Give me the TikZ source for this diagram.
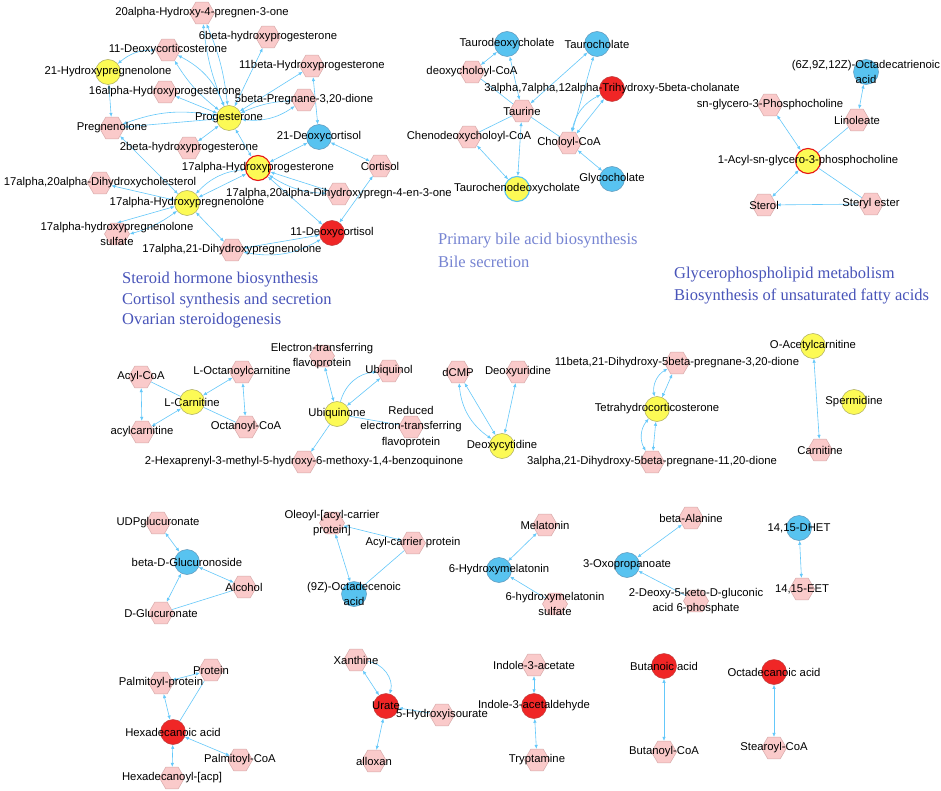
\documentclass[tikz,border=0pt]{standalone}
\usepackage{fontspec}
\setmainfont{Liberation Sans}
\newfontfamily\titlefont{Liberation Serif}
\usetikzlibrary{shapes.geometric,arrows.meta}
\pgfdeclarelayer{bg}
\pgfdeclarelayer{fg}
\pgfsetlayers{bg,main,fg}
\definecolor{hexfill}{RGB}{250,202,202}
\definecolor{hexdraw}{RGB}{215,170,170}
\definecolor{yelfill}{RGB}{252,250,85}
\definecolor{yeldraw}{RGB}{170,170,95}
\definecolor{blufill}{RGB}{88,195,240}
\definecolor{bludraw}{RGB}{95,150,185}
\definecolor{redfill}{RGB}{240,38,38}
\definecolor{reddraw}{RGB}{190,60,60}
\definecolor{redring}{RGB}{230,20,20}
\definecolor{edgec}{RGB}{100,200,250}
\definecolor{titleA}{RGB}{72,84,185}
\definecolor{titleB}{RGB}{118,132,210}
\newcommand\lblfont{\fontsize{11.3}{15.5}\selectfont}
\newcommand\ttlfont{\titlefont\fontsize{16.5}{20}\selectfont}
\newcommand\mknode[4]{%
  \node[#1] (#2) at (#3) {};
  \begin{pgfonlayer}{fg}\node[lbl] (#2-l) at (#2) {#4};\end{pgfonlayer}}
\tikzset{
  hexn/.style={regular polygon, regular polygon sides=6, minimum size=25pt, inner sep=0pt, fill=hexfill, draw=hexdraw, line width=0.5pt},
  yel/.style={circle, minimum size=25pt, inner sep=0pt, fill=yelfill, draw=yeldraw, line width=0.5pt},
  yelr/.style={yel, draw=redring, line width=1.1pt},
  yelb/.style={yel, draw=blufill, line width=1.1pt},
  blu/.style={circle, minimum size=25pt, inner sep=0pt, fill=blufill, draw=bludraw, line width=0.5pt},
  red/.style={circle, minimum size=25pt, inner sep=0pt, fill=redfill, draw=reddraw, line width=0.5pt},
  lbl/.style={font=\lblfont, inner sep=0pt, align=center, text=black},
  ttl/.style={font=\ttlfont, inner sep=0pt, anchor=west},
  ep/.style={draw=edgec, line width=0.6pt},
  ee/.style={ep, {Latex[length=4pt,width=3.4pt]}-{Latex[length=4pt,width=3.4pt]}},
  ea/.style={ep, -{Latex[length=4pt,width=3.4pt]}},
}
\begin{document}
\begin{tikzpicture}[x=1pt,y=-1pt]
\begin{pgfonlayer}{bg}
\path[use as bounding box, fill=white] (0,0) rectangle (941,791);
\end{pgfonlayer}
% ---------- steroid hormone cluster
\mknode{hexn}{s20a}{202,13}{20alpha-Hydroxy-4-pregnen-3-one}
\mknode{hexn}{s6b}{268,37}{6beta-hydroxyprogesterone}
\mknode{hexn}{s11doc}{168,50}{11-Deoxycorticosterone}
\mknode{yel}{s21hp}{108,72}{21-Hydroxypregnenolone}
\mknode{hexn}{s11b}{312,66}{11beta-Hydroxyprogesterone}
\mknode{hexn}{s16a}{165,92}{16alpha-Hydroxyprogesterone}
\mknode{hexn}{s5b}{304,100}{5beta-Pregnane-3,20-dione}
\mknode{yel}{sprog}{229,118}{Progesterone}
\mknode{hexn}{spreg}{112,128}{Pregnenolone}
\mknode{blu}{s21dc}{319,137}{21-Deoxycortisol}
\mknode{hexn}{s2b}{189,148}{2beta-hydroxyprogesterone}
\mknode{yelr}{s17ahp}{258,168}{17alpha-Hydroxyprogesterone}
\mknode{hexn}{scort}{380,166}{Cortisol}
\mknode{hexn}{s1720dhc}{100,183}{17alpha,20alpha-Dihydroxycholesterol}
\mknode{yel}{s17ahpreg}{187,203}{17alpha-Hydroxypregnenolone}
\mknode{hexn}{s1720dhp}{339,194}{17alpha,20alpha-Dihydroxypregn-4-en-3-one}
\mknode{hexn}{s17s}{117,234}{17alpha-hydroxypregnenolone\\sulfate}
\mknode{red}{s11dc}{332,233}{11-Deoxycortisol}
\mknode{hexn}{s1721}{232,250}{17alpha,21-Dihydroxypregnenolone}
% ---------- bile acid cluster
\mknode{blu}{btdc}{507,44}{Taurodeoxycholate}
\mknode{blu}{btc}{597,44}{Taurocholate}
\mknode{hexn}{bdcoa}{472,72}{deoxycholoyl-CoA}
\mknode{red}{btri}{612,89}{3alpha,7alpha,12alpha-Trihydroxy-5beta-cholanate}
\mknode{hexn}{btau}{522,111}{Taurine}
\mknode{hexn}{bcdcoa}{469,137}{Chenodeoxycholoyl-CoA}
\mknode{hexn}{bccoa}{569,143}{Choloyl-CoA}
\mknode{yelb}{btcdc}{517,189}{Taurochenodeoxycholate}
\mknode{blu}{bgc}{612,179}{Glycocholate}
% ---------- glycerophospholipid cluster
\mknode{blu}{gotd}{866,72}{(6Z,9Z,12Z)-Octadecatrienoic\\acid}
\mknode{hexn}{gsn}{770,105}{sn-glycero-3-Phosphocholine}
\mknode{hexn}{glin}{857,120}{Linoleate}
\mknode{yelr}{gacyl}{808,161}{1-Acyl-sn-glycero-3-phosphocholine}
\mknode{hexn}{gst}{764,205}{Sterol}
\mknode{hexn}{gse}{871,204}{Steryl ester}
% ---------- row 2
\mknode{hexn}{cacoa}{141,377}{Acyl-CoA}
\mknode{hexn}{cloc}{242,372}{L-Octanoylcarnitine}
\mknode{yel}{clc}{192,402}{L-Carnitine}
\mknode{hexn}{cac}{142,432}{acylcarnitine}
\mknode{hexn}{cocoa}{246,427}{Octanoyl-CoA}
\mknode{hexn}{uetf}{322,356}{Electron-transferring\\flavoprotein}
\mknode{hexn}{uol}{389,371}{Ubiquinol}
\mknode{yel}{uone}{337,414}{Ubiquinone}
\mknode{hexn}{uretf}{411,427}{Reduced\\electron-transferring\\flavoprotein}
\mknode{hexn}{uhex}{304,462}{2-Hexaprenyl-3-methyl-5-hydroxy-6-methoxy-1,4-benzoquinone}
\mknode{hexn}{ddcmp}{458,372}{dCMP}
\mknode{hexn}{ddu}{518,372}{Deoxyuridine}
\mknode{yel}{ddc}{502,446}{Deoxycytidine}
\mknode{hexn}{tp11b}{677,363}{11beta,21-Dihydroxy-5beta-pregnane-3,20-dione}
\mknode{yel}{tthc}{657,409}{Tetrahydrocorticosterone}
\mknode{hexn}{tp3a}{652,462}{3alpha,21-Dihydroxy-5beta-pregnane-11,20-dione}
\mknode{yel}{oac}{813,346}{O-Acetylcarnitine}
\mknode{yel}{osp}{854,402}{Spermidine}
\mknode{hexn}{ocar}{820,450}{Carnitine}
% ---------- row 3
\mknode{hexn}{rudp}{158,523}{UDPglucuronate}
\mknode{blu}{rbdg}{187,562}{beta-D-Glucuronoside}
\mknode{hexn}{ralc}{244,587}{Alcohol}
\mknode{hexn}{rdg}{161,613}{D-Glucuronate}
\mknode{hexn}{role}{332,523}{Oleoyl-[acyl-carrier\\protein]}
\mknode{hexn}{racp}{413,543}{Acyl-carrier protein}
\mknode{blu}{rode}{354,594}{(9Z)-Octadecenoic\\acid}
\mknode{hexn}{rmel}{545,525}{Melatonin}
\mknode{blu}{rhm}{499,570}{6-Hydroxymelatonin}
\mknode{hexn}{rhms}{555,604}{6-hydroxymelatonin\\sulfate}
\mknode{hexn}{rbal}{691,518}{beta-Alanine}
\mknode{blu}{roxo}{627,565}{3-Oxopropanoate}
\mknode{hexn}{rdkg}{696,601}{2-Deoxy-5-keto-D-gluconic\\acid 6-phosphate}
\mknode{blu}{rdhet}{799,528}{14,15-DHET}
\mknode{hexn}{reet}{802,589}{14,15-EET}
% ---------- row 4
\mknode{hexn}{fprot}{211,670}{Protein}
\mknode{hexn}{fpp}{161,683}{Palmitoyl-protein}
\mknode{red}{fhex}{173,732}{Hexadecanoic acid}
\mknode{hexn}{fpcoa}{240,760}{Palmitoyl-CoA}
\mknode{hexn}{facp}{172,778}{Hexadecanoyl-[acp]}
\mknode{hexn}{xxan}{356,660}{Xanthine}
\mknode{red}{xur}{386,706}{Urate}
\mknode{hexn}{x5h}{442,715}{5-Hydroxyisourate}
\mknode{hexn}{xall}{374,761}{alloxan}
\mknode{hexn}{iac}{534,665}{Indole-3-acetate}
\mknode{red}{iald}{534,706}{Indole-3-acetaldehyde}
\mknode{hexn}{itry}{537,760}{Tryptamine}
\mknode{red}{bba}{664,666}{Butanoic acid}
\mknode{hexn}{bbcoa}{664,752}{Butanoyl-CoA}
\mknode{red}{boa}{774,672}{Octadecanoic acid}
\mknode{hexn}{bscoa}{774,748}{Stearoyl-CoA}
% ---------- titles
\node[ttl, text=titleA] (ttl1) at (122,280) {Steroid hormone biosynthesis};
\node[ttl, text=titleA] (ttl2) at (122,300.5) {Cortisol synthesis and secretion};
\node[ttl, text=titleA] (ttl3) at (122,321) {Ovarian steroidogenesis};
\node[ttl, text=titleB] (ttl4) at (438,241) {Primary bile acid biosynthesis};
\node[ttl, text=titleB] (ttl5) at (438,262) {Bile secretion};
\node[ttl, text=titleA] (ttl6) at (674,275) {Glycerophospholipid metabolism};
\node[ttl, text=titleA] (ttl7) at (674,296) {Biosynthesis of unsaturated fatty acids};
% ---------- edges
\begin{pgfonlayer}{bg}
% steroid
\draw[ee] (sprog) to[bend left=8] (s20a);
\draw[ee] (sprog) to[bend right=8] (s20a);
\draw[ee] (sprog) -- (s6b);
\draw[ee] (sprog) to[bend left=10] (s11doc);
\draw[ee] (sprog) to[bend right=20] (s11doc);
\draw[ee] (s11doc) to[bend right=20] (s21hp);
\draw[ee] (s21hp) -- (spreg);
\draw[ee] (sprog) -- (s16a);
\draw[ee] (sprog) -- (spreg);
\draw[ee] (sprog) to[bend right=15] (spreg);
\draw[ee] (sprog) -- (s11b);
\draw[ee] (sprog) to[bend left=10] (s5b);
\draw[ee] (sprog) to[bend right=20] (s5b);
\draw[ee] (s11b) -- (s21dc);
\draw[ee] (sprog) -- (s2b);
\draw[ee] (sprog) -- (s17ahp);
\draw[ee] (s17ahp) -- (s21dc);
\draw[ee] (s17ahp) -- (s17ahpreg);
\draw[ee] (s17ahp) to[bend right=20] (s17ahpreg);
\draw[ee] (s17ahp) -- (s1720dhp);
\draw[ee] (s17ahp) to[bend right=15] (s1720dhp);
\draw[ee] (s17ahp) -- (s11dc);
\draw[ee] (s21dc) -- (scort);
\draw[ee] (scort) -- (s11dc);
\draw[ee] (spreg) -- (s17ahpreg);
\draw[ee] (s17ahpreg) -- (s1720dhc);
\draw[ee] (s17ahpreg) -- (s17s.north);
\draw[ee] (s17ahpreg) to[bend left=10] (s17s.east);
\draw[ee] (s17ahpreg) -- (s1721);
\draw[ee] (s1721) -- (s11dc);
\draw[ee] (s1721) to[bend right=20] (s11dc);
% bile
\draw[ee] (btdc) -- (bdcoa);
\draw[ee] (btau) -- (btdc);
\draw[ee] (btau) -- (btc);
\draw[ep] (bdcoa) -- (btau);
\draw[ep] (bcdcoa) -- (btau);
\draw[ep] (bccoa) -- (btau);
\draw[ee] (btau) -- (btcdc);
\draw[ee] (bcdcoa) -- (btcdc);
\draw[ee] (btc) -- (bccoa);
\draw[ee] (btri) -- (bccoa);
\draw[ee] (btri) to[bend right=25] (bccoa);
\draw[ee] (bccoa) -- (bgc);
% glycero
\draw[ee] (gotd) -- (glin);
\draw[ee] (gsn) -- (gacyl);
\draw[ep] (glin) -- (gacyl);
\draw[ee] (gacyl) -- (gst);
\draw[ep] (gacyl) -- (gse);
\draw[ea] (gse) -- (gst);
% carnitine
\draw[ee] (cacoa) -- (cac);
\draw[ep] (cacoa) -- (clc);
\draw[ee] (cac) -- (clc);
\draw[ee] (clc) -- (cloc);
\draw[ep] (clc) -- (cocoa);
\draw[ee] (cloc) -- (cocoa);
% ubiquinone
\draw[ee] (uetf) -- (uone);
\draw[ee] (uone) -- (uol);
\draw[ea] (uone) to[bend left=35] (uol);
\draw[ep] (uone) -- (uretf);
\draw[ea] (uone) -- (uhex);
% deoxycytidine
\draw[ee] (ddcmp) -- (ddc);
\draw[ee] (ddcmp) to[bend right=25] (ddc);
\draw[ee] (ddu) -- (ddc);
% tetrahydrocorticosterone
\draw[ee] (tthc) -- (tp11b);
\draw[ee] (tthc) to[bend left=35] (tp11b);
\draw[ee] (tthc) -- (tp3a);
\draw[ee] (tthc) to[bend right=35] (tp3a);
\draw[ee] (oac) -- (ocar);
% row 3
\draw[ee] (rudp) -- (rbdg);
\draw[ee] (rbdg) -- (ralc);
\draw[ee] (rbdg) -- (rdg);
\draw[ep] (rdg) -- (ralc);
\draw[ee] (role) -- (racp);
\draw[ee] (role) -- (rode);
\draw[ep] (racp) -- (rode);
\draw[ee] (rmel) -- (rhm);
\draw[ea] (rhms) -- (rhm);
\draw[ee] (rbal) -- (roxo);
\draw[ea] (rdkg) -- (roxo);
\draw[ee] (rdhet) -- (reet);
% row 4
\draw[ee] (fprot) -- (fpp);
\draw[ee] (fpp) -- (fhex);
\draw[ep] (fprot) -- (fhex);
\draw[ee] (fhex) -- (fpcoa);
\draw[ee] (fhex) -- (facp);
\draw[ee] (xxan) -- (xur);
\draw[ea] (xxan) to[bend left=50] (xur);
\draw[ea] (x5h) -- (xur);
\draw[ee] (xur) -- (xall);
\draw[ee] (iac) -- (iald);
\draw[ee] (iald) -- (itry);
\draw[ee] (bba) -- (bbcoa);
\draw[ee] (boa) -- (bscoa);
\end{pgfonlayer}
\end{tikzpicture}
\end{document}
